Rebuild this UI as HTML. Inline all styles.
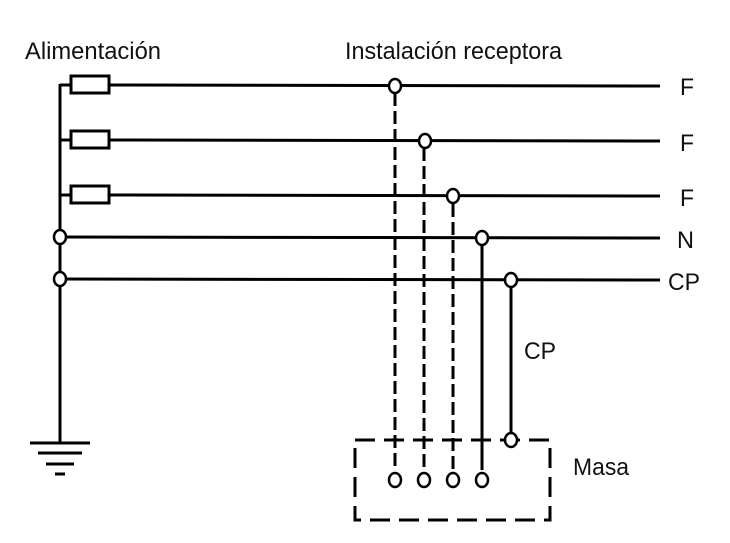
<!DOCTYPE html>
<html><head><style>
body{margin:0;background:#fff;}
svg{display:block}
text{font-family:"Liberation Sans",sans-serif;font-size:24px;fill:#111;}
</style></head><body>
<svg width="730" height="543" viewBox="0 0 730 543" xmlns="http://www.w3.org/2000/svg">
<g stroke="#000" fill="none" stroke-width="3">
<line x1="60" y1="84" x2="60" y2="443"/>
<line x1="60" y1="85" x2="72" y2="85"/>
<line x1="60" y1="140" x2="72" y2="140"/>
<line x1="60" y1="195" x2="72" y2="195"/>
<rect x="71" y="76" width="38" height="17" fill="#fff"/>
<rect x="71" y="131" width="38" height="17" fill="#fff"/>
<rect x="71" y="186" width="38" height="17" fill="#fff"/>
<line x1="109" y1="85" x2="660" y2="86"/>
<line x1="109" y1="140" x2="660" y2="141"/>
<line x1="109" y1="195" x2="660" y2="196"/>
<line x1="60" y1="237" x2="660" y2="238"/>
<line x1="60" y1="279" x2="660" y2="280"/>
<line x1="30" y1="443" x2="90" y2="443"/>
<line x1="38" y1="453" x2="82" y2="453"/>
<line x1="46" y1="464" x2="74" y2="464"/>
<line x1="55" y1="474" x2="65" y2="474"/>
<g stroke-dasharray="13,5">
<line x1="395" y1="93" x2="395" y2="470"/>
<line x1="424" y1="148" x2="424" y2="470"/>
<line x1="453" y1="204" x2="453" y2="470"/>
</g>
<line x1="482" y1="246" x2="482" y2="470"/>
<line x1="511" y1="288" x2="511" y2="432"/>
<rect x="355" y="440" width="195" height="80" stroke-dasharray="20,9"/>
</g>
<g stroke="#000" fill="#fff" stroke-width="2.5">
<ellipse cx="60" cy="237" rx="6" ry="7"/>
<ellipse cx="60" cy="279" rx="6" ry="7"/>
<ellipse cx="395" cy="86" rx="6" ry="7"/>
<ellipse cx="425" cy="141" rx="6" ry="7"/>
<ellipse cx="453" cy="196" rx="6" ry="7"/>
<ellipse cx="482" cy="238" rx="6" ry="7"/>
<ellipse cx="511" cy="280" rx="6" ry="7"/>
<ellipse cx="511" cy="440" rx="6" ry="7"/>
<ellipse cx="395" cy="480" rx="6" ry="7"/>
<ellipse cx="424" cy="480" rx="6" ry="7"/>
<ellipse cx="453" cy="480" rx="6" ry="7"/>
<ellipse cx="482" cy="480" rx="6" ry="7"/>
</g>
<text x="25" y="59" textLength="136" lengthAdjust="spacingAndGlyphs">Alimentación</text>
<text x="345" y="59" textLength="217" lengthAdjust="spacingAndGlyphs">Instalación receptora</text>
<text x="680" y="95" textLength="14" lengthAdjust="spacingAndGlyphs">F</text>
<text x="680" y="151" textLength="14" lengthAdjust="spacingAndGlyphs">F</text>
<text x="680" y="206" textLength="14" lengthAdjust="spacingAndGlyphs">F</text>
<text x="677" y="248" textLength="17" lengthAdjust="spacingAndGlyphs">N</text>
<text x="668" y="290" textLength="32" lengthAdjust="spacingAndGlyphs">CP</text>
<text x="524" y="359" textLength="32" lengthAdjust="spacingAndGlyphs">CP</text>
<text x="573" y="475" textLength="56" lengthAdjust="spacingAndGlyphs">Masa</text>
</svg>
</body></html>
